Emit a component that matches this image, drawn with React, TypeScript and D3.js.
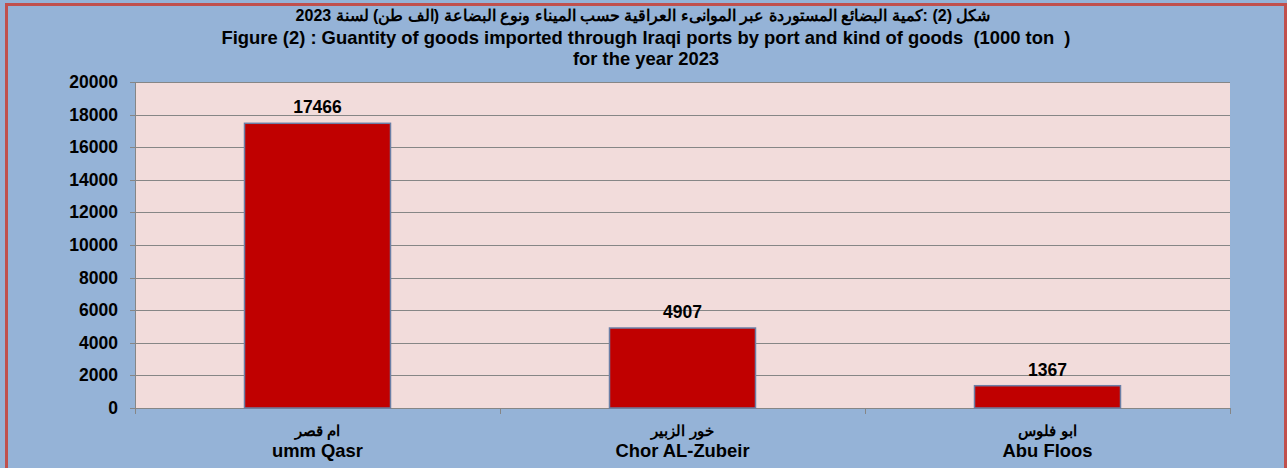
import * as d3 from 'd3';
import { useEffect, useRef } from 'react';

const categoriesAr = ['ام قصر', 'خور الزبير', 'ابو فلوس'];
const categoriesEn = ['umm Qasr', 'Chor AL-Zubeir', 'Abu Floos'];
const values = [17466, 4907, 1367];
const yTicks = [0, 2000, 4000, 6000, 8000, 10000, 12000, 14000, 16000, 18000, 20000];

const titleAr = 'شكل (2) :كمية البضائع المستوردة عبر الموانىء العراقية حسب الميناء ونوع البضاعة (الف طن) لسنة 2023';
const titleEn1 = 'Figure (2) : Guantity of goods imported through Iraqi ports by port and kind of goods \u00a0(1000 ton \u00a0)';
const titleEn2 = 'for the year 2023';

export default function App() {
  const ref = useRef<SVGSVGElement | null>(null);

  useEffect(() => {
    document.body.style.margin = '0';
    if (!ref.current) return;

    const width = 1287;
    const height = 468;
    const plot = { left: 135, right: 1230, top: 82, bottom: 408 };
    const font = '"Liberation Sans", Arial, sans-serif';

    const svg = d3.select(ref.current).attr('viewBox', `0 0 ${width} ${height}`);
    svg.selectAll('*').remove();

    /* ---- background + frame ---- */
    svg.append('rect')
      .attr('x', 0).attr('y', 0).attr('width', width).attr('height', height)
      .attr('fill', '#95b3d7');
    svg.append('rect')
      .attr('x', 6.5).attr('y', 4.5).attr('width', 1279).attr('height', 470)
      .attr('fill', 'none').attr('stroke', '#c0504d').attr('stroke-width', 3);

    /* ---- titles ---- */
    const titles = svg.append('g')
      .attr('font-family', font).attr('font-weight', 'bold').attr('fill', '#000')
      .attr('text-anchor', 'middle');
    titles.append('text').attr('x', 643).attr('y', 21).attr('font-size', 16)
      .attr('direction', 'rtl').text(titleAr);
    titles.append('text').attr('x', 646).attr('y', 44).attr('font-size', 18.4).text(titleEn1);
    titles.append('text').attr('x', 646).attr('y', 65).attr('font-size', 18.4).text(titleEn2);

    /* ---- scales ---- */
    const x = d3.scaleBand<number>()
      .domain(d3.range(values.length))
      .range([plot.left, plot.right])
      .paddingInner(0.6).paddingOuter(0.3);
    const xCat = d3.scaleBand<number>()
      .domain(d3.range(values.length))
      .range([plot.left, plot.right]);
    const y = d3.scaleLinear().domain([0, 20000]).range([plot.bottom, plot.top]);

    /* ---- plot area ---- */
    svg.append('rect')
      .attr('x', plot.left).attr('y', plot.top)
      .attr('width', plot.right - plot.left).attr('height', plot.bottom - plot.top)
      .attr('fill', '#f2dcdb');

    svg.append('g').selectAll('line')
      .data(yTicks)
      .enter()
      .append('line')
      .attr('x1', plot.left - 5).attr('x2', plot.right)
      .attr('y1', (d) => Math.round(y(d)) + 0.5).attr('y2', (d) => Math.round(y(d)) + 0.5)
      .attr('stroke', '#868686').attr('stroke-width', 1);

    // y axis line
    svg.append('line')
      .attr('x1', plot.left + 0.5).attr('x2', plot.left + 0.5)
      .attr('y1', plot.top).attr('y2', plot.bottom)
      .attr('stroke', '#868686');

    // category ticks
    svg.append('g').selectAll('line')
      .data(d3.range(values.length + 1))
      .enter()
      .append('line')
      .attr('x1', (i) => Math.round(plot.left + i * xCat.bandwidth()) + 0.5)
      .attr('x2', (i) => Math.round(plot.left + i * xCat.bandwidth()) + 0.5)
      .attr('y1', plot.bottom).attr('y2', plot.bottom + 6)
      .attr('stroke', '#868686');

    /* ---- bars ---- */
    svg.append('g').selectAll('rect')
      .data(values)
      .enter()
      .append('rect')
      .attr('x', (_d, i) => x(i)!)
      .attr('y', (d) => y(d))
      .attr('width', x.bandwidth())
      .attr('height', (d) => plot.bottom - y(d))
      .attr('fill', '#c00000')
      .attr('stroke', '#6b7fa6').attr('stroke-width', 1.5);

    // value labels
    svg.append('g').selectAll('text')
      .data(values)
      .enter()
      .append('text')
      .attr('x', (_d, i) => x(i)! + x.bandwidth() / 2)
      .attr('y', (d) => y(d) - 10)
      .attr('text-anchor', 'middle')
      .attr('font-family', font).attr('font-weight', 'bold').attr('font-size', 17.5)
      .text((d) => d);

    /* ---- y tick labels ---- */
    svg.append('g').selectAll('text')
      .data(yTicks)
      .enter()
      .append('text')
      .attr('x', 118)
      .attr('y', (d) => y(d) + 6)
      .attr('text-anchor', 'end')
      .attr('font-family', font).attr('font-weight', 'bold').attr('font-size', 17.5)
      .text((d) => d);

    /* ---- category labels ---- */
    const cat = svg.append('g')
      .attr('font-family', font).attr('font-weight', 'bold').attr('text-anchor', 'middle');
    cat.selectAll('text.ar')
      .data(categoriesAr)
      .enter()
      .append('text')
      .attr('class', 'ar')
      .attr('x', (_d, i) => xCat(i)! + xCat.bandwidth() / 2)
      .attr('y', 436)
      .attr('font-size', 15)
      .attr('direction', 'rtl')
      .text((d) => d);
    cat.selectAll('text.en')
      .data(categoriesEn)
      .enter()
      .append('text')
      .attr('class', 'en')
      .attr('x', (_d, i) => xCat(i)! + xCat.bandwidth() / 2)
      .attr('y', 457)
      .attr('font-size', 18.4)
      .text((d) => d);
  }, []);

  return <svg ref={ref} width={1287} height={468} style={{ display: 'block' }} />;
}
